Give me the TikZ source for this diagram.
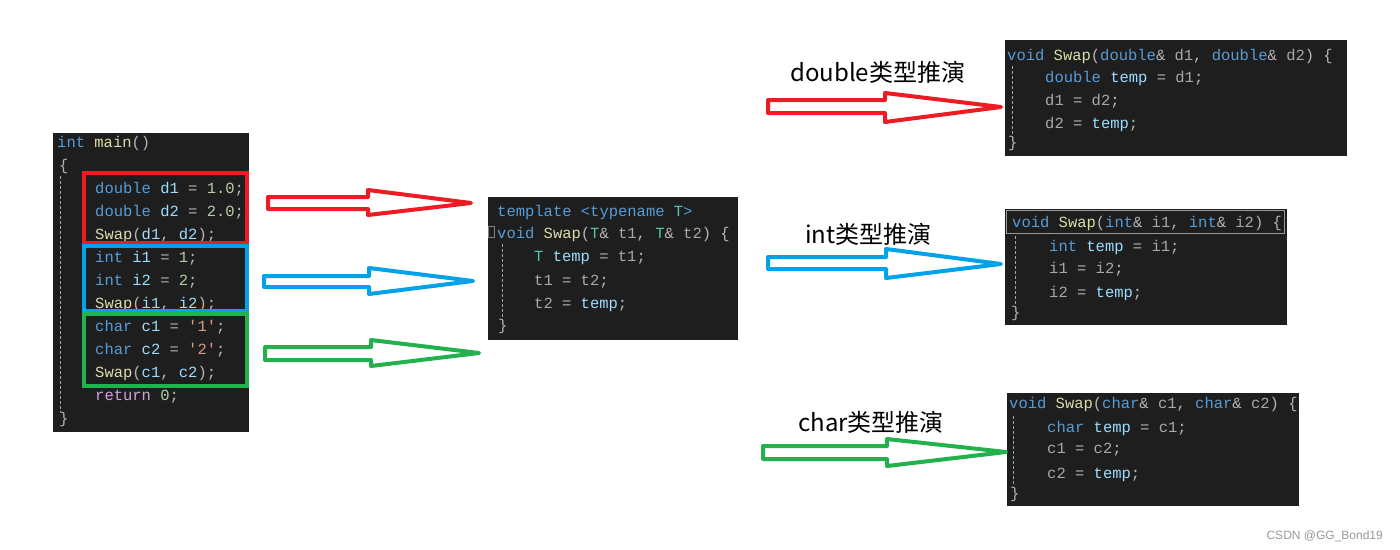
\documentclass[tikz,border=0pt]{standalone}
\usepackage{fontspec}
\newfontfamily\codefont{Liberation Mono}
\newfontfamily\cjk{Noto Sans CJK SC}
\newfontfamily\wmfont{Liberation Sans}
\definecolor{codebg}{HTML}{1E1E1E}
\definecolor{ckw}{HTML}{569CD6}
\definecolor{cfn}{HTML}{DCDCAA}
\definecolor{cvar}{HTML}{9CDCFE}
\definecolor{cnum}{HTML}{B5CEA8}
\definecolor{cstr}{HTML}{D69D85}
\definecolor{cctl}{HTML}{D8A0DF}
\definecolor{cty}{HTML}{4EC9B0}
\definecolor{cpar}{HTML}{A8A8A8}
\definecolor{cpunct}{HTML}{B4B4B4}
\definecolor{pred}{HTML}{ED1C24}
\definecolor{pblue}{HTML}{00A2E8}
\definecolor{pgreen}{HTML}{22B14C}
\newcommand\cKw[1]{\textcolor{ckw}{#1}}
\newcommand\cFn[1]{\textcolor{cfn}{#1}}
\newcommand\cVar[1]{\textcolor{cvar}{#1}}
\newcommand\cNum[1]{\textcolor{cnum}{#1}}
\newcommand\cStr[1]{\textcolor{cstr}{#1}}
\newcommand\cCtl[1]{\textcolor{cctl}{#1}}
\newcommand\cTy[1]{\textcolor{cty}{#1}}
\newcommand\cPar[1]{\textcolor{cpar}{#1}}
\tikzset{
  codebox/.style={fill=codebg, draw=none},
  code/.style={anchor=base west, inner sep=0pt, text=cpunct,
    font=\codefont\fontsize{15.5}{18}\selectfont},
  guide/.style={draw=gray!70, dashed, line width=0.8pt, dash pattern=on 3pt off 2pt},
  frame/.style={line width=4pt},
  blockarrow/.style={line width=4pt, line join=round, fill=white},
  lbl/.style={anchor=base west, inner sep=0pt, font=\cjk\fontsize{24}{28}\selectfont, text=black},
}
\begin{document}
\begin{tikzpicture}[x=1pt,y=-1pt]
\useasboundingbox[fill=white] (0,0) rectangle (1400,549);

% ---------- main box ----------
\fill[codebox] (53,133) rectangle (249,432);
\draw[guide] (60,176) -- (60,412);
\node[code] (m1) at (57,147) {\cKw{int} \cFn{main}()};
\node[code] (m2) at (59,170) {\{};
\node[code] (m3) at (95,193) {\cKw{double} \cVar{d1} = \cNum{1.0};};
\node[code] (m4) at (95,216) {\cKw{double} \cVar{d2} = \cNum{2.0};};
\node[code] (m5) at (95,239) {\cFn{Swap}(\cVar{d1}, \cVar{d2});};
\node[code] (m6) at (95,262) {\cKw{int} \cVar{i1} = \cNum{1};};
\node[code] (m7) at (95,285) {\cKw{int} \cVar{i2} = \cNum{2};};
\node[code] (m8) at (95,308) {\cFn{Swap}(\cVar{i1}, \cVar{i2});};
\node[code] (m9) at (95,331) {\cKw{char} \cVar{c1} = \cStr{'1'};};
\node[code] (m10) at (95,354) {\cKw{char} \cVar{c2} = \cStr{'2'};};
\node[code] (m11) at (95,377) {\cFn{Swap}(\cVar{c1}, \cVar{c2});};
\node[code] (m12) at (95,400) {\cCtl{return} \cNum{0};};
\node[code] (m13) at (59,423) {\}};
\draw[frame, pred] (84,173) rectangle (247,243);
\draw[frame, pblue] (84,246) rectangle (247,311);
\draw[frame, pgreen] (84,314) rectangle (247,386);

% ---------- template box ----------
\fill[codebox] (488,197) rectangle (738,340);
\draw[gray, line width=0.8pt] (488.5,226) rectangle (494,237);
\draw[guide] (502,244) -- (502,318);
\node[code] (t1) at (497,216) {\cKw{template} \cKw{<typename} \cTy{T}\cKw{>}};
\node[code] (t2) at (497,238) {\cKw{void} \cFn{Swap}(\cTy{T}\& \cPar{t1}, \cTy{T}\& \cPar{t2}) \{};
\node[code] (t3) at (534,261) {\cTy{T} \cVar{temp} = \cPar{t1};};
\node[code] (t4) at (534,285) {\cPar{t1} = \cPar{t2};};
\node[code] (t5) at (534,308) {\cPar{t2} = \cVar{temp};};
\node[code] (t6) at (498,330) {\}};

% ---------- double box ----------
\fill[codebox] (1005,40) rectangle (1347,156);
\draw[guide] (1012,66) -- (1012,136);
\node[code] (d1) at (1007,60) {\cKw{void} \cFn{Swap}(\cKw{double}\& \cPar{d1}, \cKw{double}\& \cPar{d2}) \{};
\node[code] (d2) at (1045,82) {\cKw{double} \cVar{temp} = \cPar{d1};};
\node[code] (d3) at (1045,105) {\cPar{d1} = \cPar{d2};};
\node[code] (d4) at (1045,128) {\cPar{d2} = \cVar{temp};};
\node[code] (d5) at (1008,147) {\}};

% ---------- int box ----------
\fill[codebox] (1005,209) rectangle (1287,325);
\draw[gray!80, line width=1pt] (1006,210) rectangle (1284,233);
\draw[guide] (1015,236) -- (1015,306);
\node[code] (i1) at (1012,227) {\cKw{void} \cFn{Swap}(\cKw{int}\& \cPar{i1}, \cKw{int}\& \cPar{i2}) \{};
\node[code] (i2) at (1049,251) {\cKw{int} \cVar{temp} = \cPar{i1};};
\node[code] (i3) at (1049,273) {\cPar{i1} = \cPar{i2};};
\node[code] (i4) at (1049,297) {\cPar{i2} = \cVar{temp};};
\node[code] (i5) at (1011,317) {\}};

% ---------- char box ----------
\fill[codebox] (1007,393) rectangle (1299,506);
\draw[guide] (1013,416) -- (1013,486);
\node[code] (c1) at (1009,408) {\cKw{void} \cFn{Swap}(\cKw{char}\& \cPar{c1}, \cKw{char}\& \cPar{c2}) \{};
\node[code] (c2) at (1047,432) {\cKw{char} \cVar{temp} = \cPar{c1};};
\node[code] (c3) at (1047,453) {\cPar{c1} = \cPar{c2};};
\node[code] (c4) at (1047,478) {\cPar{c2} = \cVar{temp};};
\node[code] (c5) at (1010,498) {\}};

% ---------- left arrows ----------
\draw[blockarrow, draw=pred] (268,197) -- (368,197) -- (368,190) -- (471,203) -- (368,215) -- (368,209) -- (268,209) -- cycle;
\draw[blockarrow, draw=pblue] (264,276) -- (369,276) -- (369,268) -- (473,281) -- (369,294) -- (369,287) -- (264,287) -- cycle;
\draw[blockarrow, draw=pgreen] (265,347) -- (371,347) -- (371,340) -- (479,353) -- (371,366) -- (371,360) -- (265,360) -- cycle;

% ---------- right arrows ----------
\draw[blockarrow, draw=pred] (768,100) -- (885,100) -- (885,93) -- (1001,107) -- (885,122) -- (885,113) -- (768,113) -- cycle;
\draw[blockarrow, draw=pblue] (768,257) -- (886,257) -- (886,249) -- (1001,264) -- (886,278) -- (886,269) -- (768,269) -- cycle;
\draw[blockarrow, draw=pgreen] (763,446) -- (887,446) -- (887,439) -- (1006,452) -- (887,466) -- (887,459) -- (763,459) -- cycle;

% ---------- labels ----------
\node[lbl] (ld) at (790,81) {double类型推演};
\node[lbl] (li) at (805,243) {int类型推演};
\node[lbl] (lc) at (798,431) {char类型推演};

% ---------- watermark ----------
\node[anchor=base east, inner sep=0pt, text=gray!80, font=\wmfont\fontsize{12}{14}\selectfont] (wm) at (1383,539) {CSDN @GG\_Bond19};
\end{tikzpicture}
\end{document}
